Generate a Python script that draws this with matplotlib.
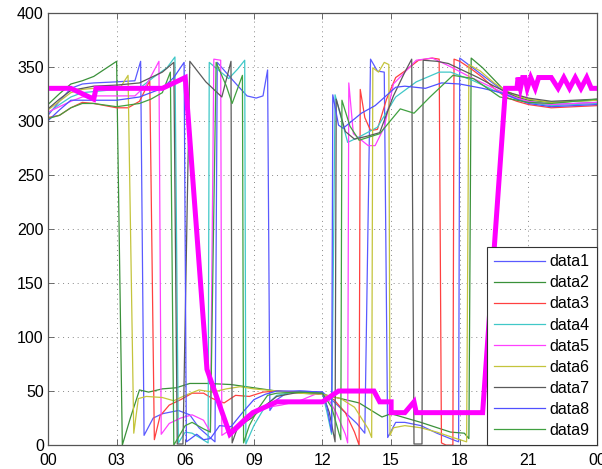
import matplotlib
matplotlib.use("Agg")
import matplotlib.pyplot as plt

plt.rcParams["font.family"] = ["Liberation Sans", "DejaVu Sans"]

# hours of day / direction in degrees
t1 = [0, 0.5, 1, 1.5, 2, 3, 3.8, 4.05, 4.2, 4.6, 5.0, 5.7, 6.2, 6.6, 7.3, 7.4, 8.1, 8.7, 9.1, 9.4, 9.6, 9.7,
      10.0, 10.5, 11, 12, 12.5, 13.0, 13.5, 13.85, 14.1, 14.4, 14.7, 14.85, 15.2, 15.6, 16.3, 17.0, 17.7, 17.95,
      18.0, 18.5, 19.0, 19.5, 20, 20.5, 21, 22, 23, 24]
v1 = [305, 318, 330, 334, 335, 336, 337, 355, 9, 25, 29, 32, 28, 16, 3, 354, 337, 323, 321, 323, 347, 32,
      42, 49, 50, 49, 40, 30, 20, 11, 357, 346, 345, 7, 21, 21, 18, 11, 5, 3,
      358, 350, 342, 334, 326, 322, 318, 315, 316, 317]

t2 = [0, 0.5, 1, 1.5, 2, 2.5, 3.0, 3.25, 3.6, 4.0, 4.4, 5.0, 5.6, 6.2, 7.0, 8.0, 9.0, 10.0, 11.0, 12.0,
      12.8, 13.6, 14.6, 15.0, 16.3, 17.6, 18.2, 18.4, 18.5, 19.0, 19.5, 20.0, 20.5, 21, 22, 23, 24]
v2 = [315, 325, 334, 337, 341, 348, 355, 0, 25, 51, 49, 52, 53, 57, 57, 56, 53, 50, 48, 47,
      43, 39, 26, 29, 21, 12, 11, 6, 358, 349, 338, 327, 322, 319, 317, 318, 319]

t3 = [0, 0.5, 1, 1.5, 2, 2.5, 3.0, 3.5, 4.0, 4.45, 4.65, 4.9, 5.3, 5.8, 6.3, 6.8, 7.2, 7.7, 8.2, 8.8, 9.4,
      10, 11, 12, 12.5, 13.0, 13.4, 13.6, 13.65, 13.85, 14.1, 14.4, 14.8, 15.2, 15.6, 16.2, 16.8, 17.1, 17.2,
      17.4, 17.7, 17.75, 18.0, 18.5, 19.0, 19.5, 20, 20.5, 21, 22, 23, 24]
v3 = [303, 305, 312, 317, 316, 314, 312, 312, 318, 337, 5, 27, 37, 42, 48, 48, 43, 39, 46, 45, 49,
      50, 49, 47, 42, 30, 12, 0, 329, 303, 291, 292, 320, 340, 346, 356, 358, 357, 2,
      0, 0, 357, 355, 348, 340, 330, 322, 318, 315, 312, 313, 314]

t4 = [0, 0.5, 1, 1.5, 2, 3, 4, 4.6, 5.2, 5.55, 5.7, 6.0, 6.3, 6.7, 7.0, 7.05, 7.5, 7.9, 8.3, 8.6, 8.65,
      9.0, 9.5, 10, 10.5, 11, 12, 12.2, 12.4, 12.55, 13.1, 13.6, 14.4, 15.2, 16.1, 17.1, 17.6, 18.6, 19.5,
      20, 20.5, 21, 22, 23, 24]
v4 = [307, 315, 322, 326, 327, 329, 330, 340, 349, 359, 2, 12, 11, 6, 2, 354, 346, 339, 348, 356, 1,
      18, 36, 46, 48, 49, 48, 30, 10, 324, 280, 285, 294, 322, 336, 345, 345, 337, 328,
      324, 320, 317, 314, 315, 316]

t5 = [0, 0.5, 1, 1.5, 2, 3, 3.8, 4.3, 4.85, 4.95, 5.3, 5.8, 6.3, 6.8, 7.1, 7.25, 7.55, 7.6, 8.1, 8.7, 9.3,
      10.2, 11, 11.8, 12.2, 12.6, 13.0, 13.1, 13.15, 13.35, 14.0, 14.3, 14.7, 15.1, 16.1, 16.8, 17.5, 18.5,
      19.5, 20, 20.5, 21, 22, 23, 24]
v5 = [308, 313, 318, 322, 323, 323, 323, 333, 355, 10, 20, 25, 28, 23, 12, 357, 356, 9, 16, 28, 34,
      37, 41, 48, 45, 30, 10, 2, 335, 288, 277, 277, 294, 334, 356, 358, 351, 340,
      330, 325, 321, 318, 315, 316, 317]

t6 = [0, 0.5, 1, 1.5, 2, 2.5, 3.2, 3.5, 3.75, 3.95, 4.3, 5.0, 5.5, 6.0, 6.6, 7.2, 7.8, 8.4, 9.0, 10, 11, 12,
      12.8, 13.4, 14.0, 14.15, 14.2, 14.45, 14.7, 14.9, 14.95, 15.1, 15.6, 16.3, 17.0, 17.7, 18.3, 18.4,
      18.9, 19.5, 20, 20.5, 21, 22, 23, 24]
v6 = [310, 318, 326, 329, 330, 331, 332, 342, 11, 43, 45, 44, 41, 46, 51, 49, 52, 54, 52, 50, 48, 47,
      43, 35, 15, 7, 349, 345, 354, 352, 9, 16, 18, 16, 12, 7, 3, 352,
      346, 335, 328, 323, 320, 317, 318, 319]

t7 = [0, 0.5, 1, 1.5, 2, 3, 4, 5.0, 5.5, 5.65, 5.9, 6.2, 6.9, 7.6, 8.0, 8.05, 8.3, 8.9, 9.4, 10.0, 11, 12,
      12.3, 12.55, 12.6, 13.0, 13.4, 14.0, 14.5, 15.1, 15.6, 15.9, 16.0, 16.35, 16.4, 17.0, 17.5, 18.0,
      18.8, 19.5, 20, 20.5, 21, 22, 23, 24]
v7 = [311, 320, 328, 330, 332, 333, 335, 345, 354, 1, 1, 355, 336, 322, 355, 2, 17, 25, 35, 45, 49, 48,
      30, 3, 320, 290, 283, 286, 289, 323, 345, 357, 1, 1, 356, 355, 353, 348,
      340, 332, 327, 324, 321, 318, 319, 320]

t8 = [0, 0.5, 1, 1.5, 2, 3, 4, 4.5, 5.0, 5.5, 5.95, 6.05, 6.5, 6.8, 7.1, 7.5, 8.0, 8.5, 9.0, 9.5, 10, 11, 12,
      12.2, 12.4, 12.45, 12.7, 12.9, 13.7, 14.3, 15.2, 15.6, 16.5, 17.2, 18.0, 19.0, 19.8, 20.5, 21, 22,
      23, 24]
v8 = [300, 310, 319, 319, 319, 319, 322, 326, 330, 340, 354, 3, 10, 5, 6, 18, 17, 30, 42, 47, 50, 50, 49,
      35, 12, 324, 296, 293, 307, 314, 331, 332, 330, 335, 334, 330, 326, 320, 316, 313,
      314, 315]

t9 = [0, 0.5, 1, 1.5, 2, 3, 4, 4.5, 5.0, 5.35, 5.5, 6.0, 6.3, 6.8, 7.1, 7.35, 7.8, 8.05, 8.5, 8.55, 8.8,
      9.2, 9.6, 10, 11, 12, 12.4, 12.8, 12.85, 13.2, 13.6, 14.5, 15.4, 16.0, 16.7, 17.7, 18.6, 19.75,
      20.5, 21, 22, 23, 24]
v9 = [302, 305, 312, 316, 316, 313, 316, 320, 326, 345, 0, 18, 21, 15, 12, 354, 332, 316, 342, 2, 18,
      34, 46, 48, 49, 48, 35, 5, 319, 295, 282, 288, 311, 307, 322, 342, 339, 322,
      319, 317, 316, 318, 320]

# thick reference line
t_ref = [0, 1, 2, 2.1, 5.0, 6.0, 6.95, 7.95, 8.95, 10.0, 12.0, 12.7, 14.25, 14.5, 15.0, 15.0, 15.6, 16.0,
         16.1, 19.0, 20.0, 20.5, 20.55, 20.65, 20.75, 20.85, 20.95, 21.1, 21.3, 21.45, 22.0, 22.3, 22.55,
         22.8, 23.05, 23.3, 23.55, 23.75, 24.0]
v_ref = [330, 330, 320, 330, 330, 340, 70, 10, 30, 40, 40, 50, 50, 40, 40, 30, 30, 40,
         30, 30, 330, 330, 340, 330, 340, 340, 330, 340, 330, 340, 340, 330, 340,
         330, 340, 330, 340, 330, 330]

series = [(t1, v1), (t2, v2), (t3, v3), (t4, v4), (t5, v5), (t6, v6), (t7, v7), (t8, v8), (t9, v9)]
labels = ["data1", "data2", "data3", "data4", "data5", "data6", "data7", "data8", "data9"]
colors = ["#5a5aff", "#3a913a", "#ff4040", "#40c8c8", "#ff40ff", "#c4c43c", "#5a5a5a", "#5050ff", "#40a040"]

xticks = [0, 3, 6, 9, 12, 15, 18, 21, 24]
xticklabels = ["00", "03", "06", "09", "12", "15", "18", "21", "00"]
yticks = [0, 50, 100, 150, 200, 250, 300, 350, 400]


def main():
    fig = plt.figure(figsize=(6.02, 4.69), dpi=100)
    ax = fig.add_axes([0.0797, 0.051, 0.912, 0.922])

    for (t, v), lab, c in zip(series, labels, colors):
        ax.plot(t, v, color=c, lw=0.9, label=lab)
    ax.plot(t_ref, v_ref, color="#ff00ff", lw=3.6, solid_joinstyle="miter")

    ax.set_xlim(0, 24)
    ax.set_ylim(0, 400)
    ax.set_xticks(xticks)
    ax.set_xticklabels(xticklabels)
    ax.set_yticks(yticks)
    ax.tick_params(direction="in", length=4, width=0.6, color="#555555", labelsize=11.5,
                   top=True, right=True)
    ax.tick_params(axis="x", pad=6)
    ax.tick_params(axis="y", pad=3)
    ax.grid(True, linestyle=(0, (1, 4)), color="#888888", lw=0.7)
    for s in ax.spines.values():
        s.set_color("#555555")
        s.set_linewidth(0.9)

    leg = ax.legend(loc="lower right", borderaxespad=0, fancybox=False, framealpha=1,
                    edgecolor="#333333", fontsize=11.5, handlelength=3.2, labelspacing=0.38,
                    handletextpad=0.3, borderpad=0.45)
    leg.get_frame().set_linewidth(0.8)

    fig.savefig("out.png", dpi=100)
    plt.close(fig)


if __name__ == "__main__":
    main()
